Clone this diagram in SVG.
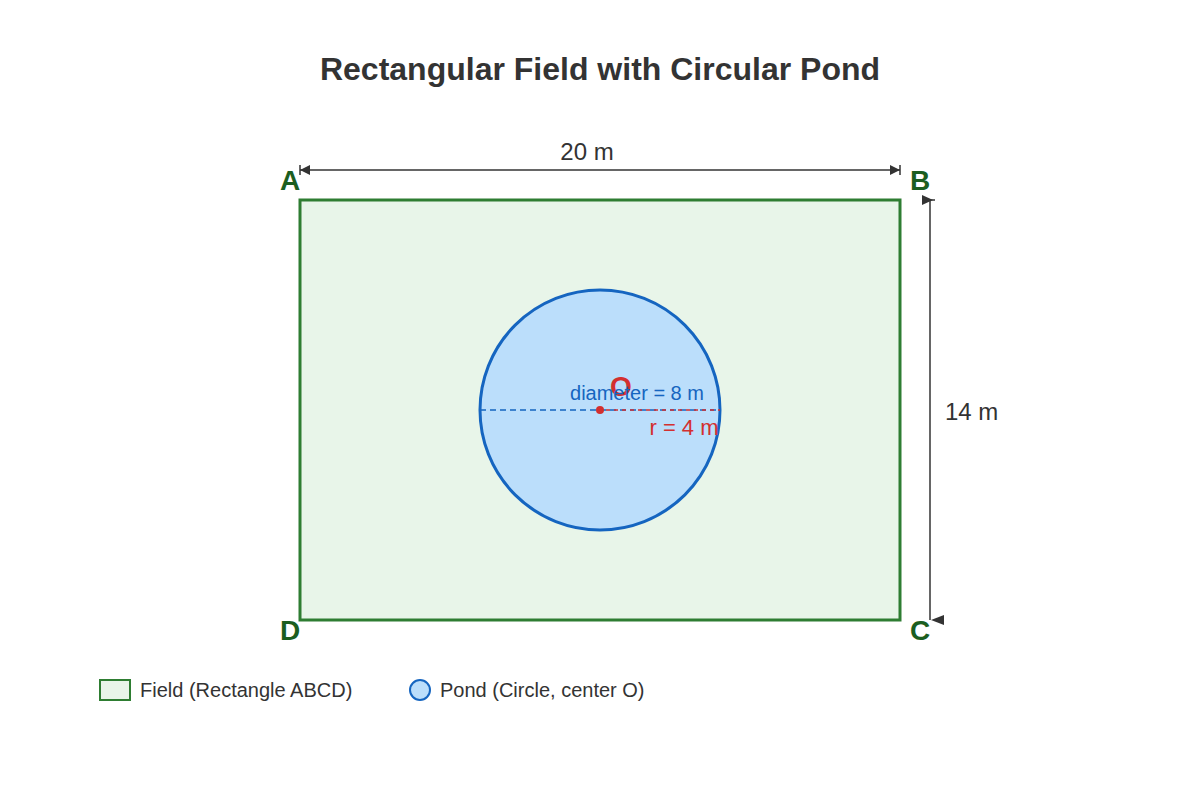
<svg xmlns="http://www.w3.org/2000/svg" width="1200" height="800" viewBox="0 0 1200 800">
<style>
text{font-family:"Liberation Sans",Arial,sans-serif}
.lbl{font-size:28px;font-weight:bold;fill:#1b5e20}
.dim{font-size:24px;fill:#333}
.dl{stroke:#333;stroke-width:1.5;fill:none}
</style>
<defs>
<marker id="ah" viewBox="0 0 10 10" refX="10" refY="5" markerWidth="12" markerHeight="10" markerUnits="userSpaceOnUse" orient="auto-start-reverse"><path d="M0,0 L10,5 L0,10 Z" fill="#333"/></marker>
</defs>
<rect width="1200" height="800" fill="#fff"/>
<text x="600" y="80" text-anchor="middle" font-size="32" font-weight="bold" fill="#333">Rectangular Field with Circular Pond</text>
<g id="field"><rect x="300" y="200" width="600" height="420" fill="#e8f5e9" stroke="#2e7d32" stroke-width="3"/></g>
<g id="pond"><circle cx="600" cy="410" r="120" fill="#bbdefb" stroke="#1565c0" stroke-width="3"/></g>
<g id="connectors">
<line class="dl" x1="300" y1="170" x2="900" y2="170" marker-start="url(#ah)" marker-end="url(#ah)"/>
<line class="dl" x1="300" y1="165" x2="300" y2="175"/><line class="dl" x1="900" y1="165" x2="900" y2="175"/>
<line class="dl" x1="930" y1="200" x2="930" y2="620"/>
<line class="dl" x1="925" y1="200" x2="935" y2="200"/>
<path d="M922,195 L933,200 L922,205 Z" fill="#333"/>
<path d="M944,615 L931,620 L944,625 Z" fill="#333"/>
<line x1="480" y1="410" x2="720" y2="410" stroke="#1565c0" stroke-width="1.5" stroke-dasharray="6,4"/>
<line x1="600" y1="410" x2="720" y2="410" stroke="#d32f2f" stroke-width="1.5" stroke-dasharray="4,4" stroke-dashoffset="2"/>
<circle cx="600" cy="410" r="4" fill="#d32f2f"/>
</g>
<text class="dim" x="587" y="160" text-anchor="middle">20 m</text>
<text class="dim" x="945" y="420">14 m</text>
<text class="lbl" x="290" y="190" text-anchor="middle">A</text>
<text class="lbl" x="920" y="190" text-anchor="middle">B</text>
<text class="lbl" x="920" y="640" text-anchor="middle">C</text>
<text class="lbl" x="290" y="640" text-anchor="middle">D</text>
<text x="621" y="396" text-anchor="middle" font-size="28" font-weight="bold" fill="#d32f2f">O</text>
<text x="637" y="400" text-anchor="middle" font-size="20" fill="#1565c0">diameter = 8 m</text>
<text x="684" y="435" text-anchor="middle" font-size="22" fill="#d32f2f">r = 4 m</text>
<g id="legend">
<rect x="100" y="680" width="30" height="20" fill="#e8f5e9" stroke="#2e7d32" stroke-width="2"/>
<text x="140" y="697" font-size="20" fill="#333">Field (Rectangle ABCD)</text>
<circle cx="420" cy="690" r="10" fill="#bbdefb" stroke="#1565c0" stroke-width="2"/>
<text x="440" y="697" font-size="20" fill="#333">Pond (Circle, center O)</text>
</g>
</svg>
